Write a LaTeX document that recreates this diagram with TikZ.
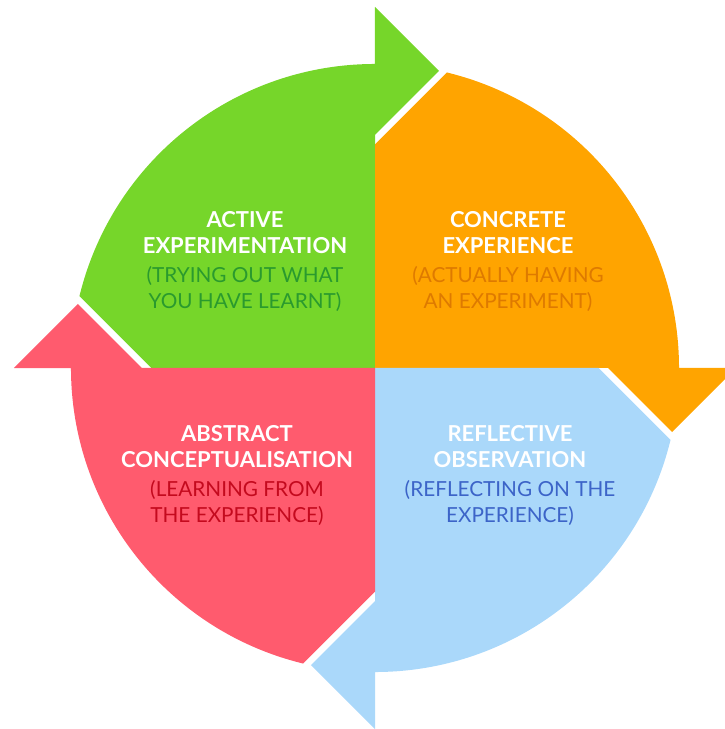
\documentclass[tikz,border=0pt]{standalone}
\usepackage{xcolor}
\usepackage{fontspec}
\setmainfont{Lato}
\usetikzlibrary{calc}
\definecolor{AEGreen}{HTML}{76D62A}
\definecolor{CEOrange}{HTML}{FFA400}
\definecolor{ROBlue}{HTML}{AAD8FA}
\definecolor{ACRed}{HTML}{FF5B6E}
\definecolor{AEText}{HTML}{2A9A2E}
\definecolor{CEText}{HTML}{DE7A00}
\definecolor{ROText}{HTML}{3C64C8}
\definecolor{ACText}{HTML}{C40A1E}
\tikzset{>=latex,
  stage/.style={align=center, inner sep=0pt, font=\fontsize{12.5}{14.8}\selectfont}}
\newcommand{\stagehead}[1]{\textbf{\textcolor{white}{#1}}}
\newcommand{\stagenote}[1]{{\fontsize{11.8}{14.8}\selectfont #1}}

\begin{document}
\begin{tikzpicture}
\clip (-7.5,-7.22) rectangle (7.0,7.36);
\foreach \ang/\col in {0/AEGreen, -90/CEOrange, -180/ROBlue, 90/ACRed}
  \fill[\col, rotate=\ang] (0,0) -- (-4.47,0) -- ++(-1.44,1.44)
    arc[start angle=166.3, end angle=90, radius=6.08]
    -- (0,7.22) -- (1.28,5.94) -- (0,4.66) -- cycle;
\node[stage, text=AEText] (ae) at (-2.6,2.13)
  {\stagehead{ACTIVE}\\\stagehead{EXPERIMENTATION}\\[1.2pt]
   \stagenote{(TRYING OUT WHAT}\\\stagenote{YOU HAVE LEARNT)}};
\node[stage, text=CEText] (ce) at (2.66,2.13)
  {\stagehead{CONCRETE}\\\stagehead{EXPERIENCE}\\[1.2pt]
   \stagenote{(ACTUALLY HAVING}\\\stagenote{AN EXPERIMENT)}};
\node[stage, text=ROText] (ro) at (2.7,-2.15)
  {\stagehead{REFLECTIVE}\\\stagehead{OBSERVATION}\\[1.2pt]
   \stagenote{(REFLECTING ON THE}\\\stagenote{EXPERIENCE)}};
\node[stage, text=ACText] (ac) at (-2.76,-2.15)
  {\stagehead{ABSTRACT}\\\stagehead{CONCEPTUALISATION}\\[1.2pt]
   \stagenote{(LEARNING FROM}\\\stagenote{THE EXPERIENCE)}};
\end{tikzpicture}
\end{document}
